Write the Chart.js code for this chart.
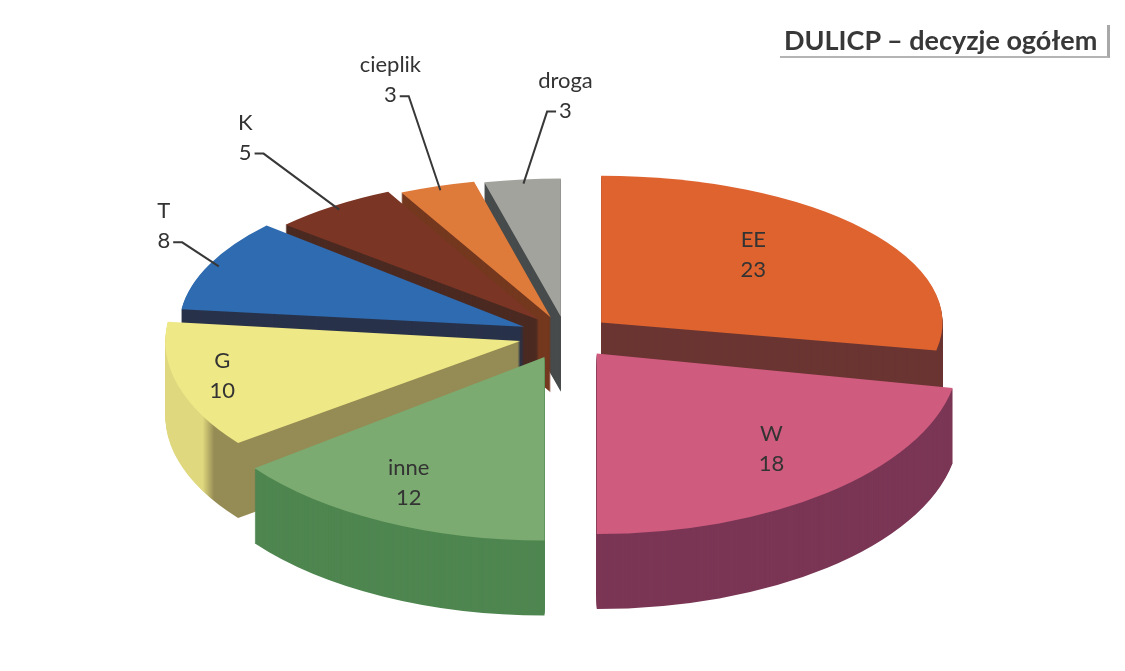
<!DOCTYPE html>
<html>
<head>
<meta charset="utf-8">
<script src="https://cdn.jsdelivr.net/npm/chart.js@4.4.1/dist/chart.umd.min.js"></script>
<style>
  html, body { margin: 0; padding: 0; background: #fff; }
  #wrap { position: relative; width: 1125px; height: 671px; }
  #title {
    position: absolute; left: 780px; top: 25px; width: 330px; height: 33px;
    box-sizing: border-box; padding-left: 4px;
    font: bold 27px Lato, sans-serif; line-height: 30px; color: #383838;
    white-space: nowrap;
    border-right: 3px solid #a8a8a8; border-bottom: 2px solid #b4b4b4;
  }
</style>
</head>
<body>
<div id="wrap">
  <canvas id="chart" width="1125" height="671"></canvas>
  <div id="title">DULICP – decyzje ogółem</div>
</div>
<script>
const categories = ['EE', 'W', 'inne', 'G', 'T', 'K', 'cieplik', 'droga'];
const decisions = [23, 18, 12, 10, 8, 5, 3, 3];

const topColors = ['#de632f', '#cf5b7e', '#7bab70', '#efe886', '#2f6bb0', '#7b3524', '#de7a3a', '#a3a39d'];
const sideColors = ['#6a3532', '#7b3655', '#4f8650', '#958b54', '#28324a', '#4b2a22', '#74381f', '#474b4b'];
const rimColors = { G: '#e0d87e' };

// label layout: [radius factor, angle shift in degrees] inside, shift from the slice edge for callouts
const insideLabel = { EE: [0.66, -8], W: [0.70, -4], inne: [0.76, 3], G: [0.86, 3] };
const calloutShift = { T: [-55, -18], K: [-94, -50], cieplik: [-50, -88], droga: [42, -66] };

// fake 3D: squash the pie, back slices a little smaller than front ones
const SX = 1.17, SX_TILT = 0.05;
const SY = 0.54, SY_TILT = 0.08;
const EXPLODE = 40;
const DEPTH = 75;

function frame(arc) {
  const mid = (arc.startAngle + arc.endAngle) / 2;
  const back = -Math.sin(mid);
  return { mid, back, sx: SX - SX_TILT * back, sy: SY - SY_TILT * back };
}

function project(arc, r, angle) {
  const f = frame(arc);
  const px = Math.cos(angle) * r + Math.cos(f.mid) * EXPLODE;
  const py = Math.sin(angle) * r + Math.sin(f.mid) * EXPLODE;
  return { x: arc.x + px * f.sx, y: arc.y + py * f.sy };
}

function drawFace(ctx, el, arc, drop) {
  const f = frame(arc);
  ctx.save();
  ctx.translate(0, drop);
  ctx.translate(arc.x, arc.y);
  ctx.scale(f.sx, f.sy);
  ctx.translate(-arc.x, -arc.y);
  ctx.translate(Math.cos(f.mid) * EXPLODE, Math.sin(f.mid) * EXPLODE);
  el.draw(ctx);
  ctx.restore();
}

function sideFill(ctx, arc, i) {
  const rim = rimColors[categories[i]];
  if (!rim) return sideColors[i];
  // lighter outer rim on the left, darker cut face towards the middle
  const r = arc.outerRadius;
  const g = ctx.createLinearGradient(arc.x - r, 0, arc.x - r * 0.75, 0);
  g.addColorStop(0, rim);
  g.addColorStop(0.42, rim);
  g.addColorStop(0.55, sideColors[i]);
  g.addColorStop(1, sideColors[i]);
  return g;
}

const pie3d = {
  id: 'pie3d',
  beforeDatasetsDraw(chart) {
    const ctx = chart.ctx;
    const arcs = chart.getDatasetMeta(0).data;
    const order = arcs.map((a, i) => i).sort((i, j) => frame(arcs[j]).back - frame(arcs[i]).back);

    order.forEach(i => {
      const side = Object.create(arcs[i]);
      side.options = Object.assign({}, arcs[i].options, { backgroundColor: sideFill(ctx, arcs[i], i) });
      for (let k = DEPTH; k > 0; k--) drawFace(ctx, side, arcs[i], k);
    });
    order.forEach(i => drawFace(ctx, arcs[i], arcs[i], 0));
    return false;
  },
  afterDraw(chart) {
    const ctx = chart.ctx;
    const arcs = chart.getDatasetMeta(0).data;
    ctx.save();
    ctx.font = '22px Lato, sans-serif';
    ctx.fillStyle = '#333';
    ctx.strokeStyle = '#383838';
    ctx.lineWidth = 2;
    ctx.textAlign = 'center';
    ctx.textBaseline = 'alphabetic';

    arcs.forEach((arc, i) => {
      const name = categories[i];
      const value = String(decisions[i]);
      const mid = (arc.startAngle + arc.endAngle) / 2;

      if (insideLabel[name]) {
        const [fr, turn] = insideLabel[name];
        const p = project(arc, arc.outerRadius * fr, mid + turn * Math.PI / 180);
        ctx.fillText(name, p.x, p.y - 4);
        ctx.fillText(value, p.x, p.y + 26);
        return;
      }

      const a = project(arc, arc.outerRadius * 0.97, mid);
      const [dx, dy] = calloutShift[name];
      const lx = a.x + dx, ly = a.y + dy;
      ctx.fillText(name, lx, ly - 30);
      ctx.fillText(value, lx, ly);

      const half = ctx.measureText(value).width / 2;
      const dir = dx < 0 ? 1 : -1;
      const sx = lx + dir * (half + 3);
      ctx.beginPath();
      ctx.moveTo(sx, ly - 6);
      ctx.lineTo(sx + dir * 9, ly - 6);
      ctx.lineTo(a.x, a.y);
      ctx.stroke();
    });
    ctx.restore();
  }
};

new Chart(document.getElementById('chart'), {
  type: 'pie',
  data: {
    labels: categories,
    datasets: [{
      data: decisions,
      backgroundColor: topColors,
      borderWidth: 0,
      radius: 300
    }]
  },
  options: {
    responsive: false,
    animation: false,
    events: [],
    layout: { padding: { left: 7, bottom: 1 } },
    plugins: {
      legend: { display: false },
      tooltip: { enabled: false }
    }
  },
  plugins: [pie3d]
});
</script>
</body>
</html>
